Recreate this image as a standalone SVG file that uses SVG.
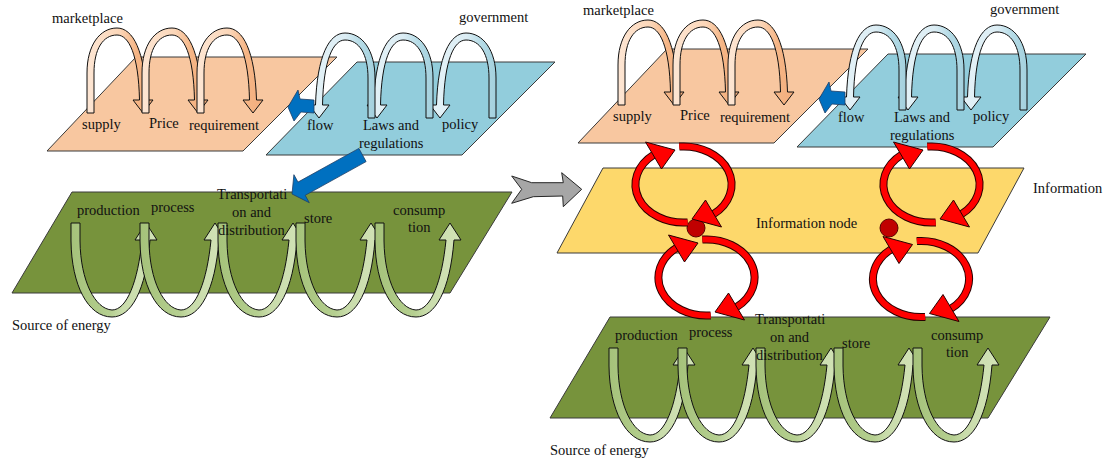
<svg xmlns="http://www.w3.org/2000/svg" xmlns:xlink="http://www.w3.org/1999/xlink" width="1106" height="465" viewBox="0 0 1106 465">
<style>
text{font-family:"Liberation Serif","Times New Roman",serif;font-size:14.5px;fill:#111}
.pl{stroke:#3a3a3a;stroke-width:1}
.or{fill:#f8c7a0}.bl{fill:#92cddc}.gr{fill:#77933c}.ye{fill:#fdd86b}
.ao{fill:url(#gOr);stroke:#111;stroke-width:1}
.ab{fill:url(#gBl);stroke:#111;stroke-width:1}
.ag{fill:url(#gGr);stroke:#111;stroke-width:1}
.rk{fill:none;stroke:#2a0000;stroke-width:8}
.rr{fill:none;stroke:#ff0000;stroke-width:6}
.rh{fill:#ff0000;stroke:#2a0000;stroke-width:1;stroke-linejoin:miter}
.dot{fill:#c00000;stroke:#5a0000;stroke-width:1}
.blue{fill:#0070c0;stroke:#1f3f66;stroke-width:0.8}
.gray{fill:#a6a6a6;stroke:#262626;stroke-width:1}
</style>
<defs>
<linearGradient id="gOr" x1="0" y1="0" x2="1" y2="0">
<stop offset="0" stop-color="#fde6d4"/><stop offset="0.5" stop-color="#fbd6b8"/><stop offset="0.75" stop-color="#f5b585"/><stop offset="1" stop-color="#f3ad7d"/>
</linearGradient>
<linearGradient id="gBl" x1="0" y1="0" x2="1" y2="0">
<stop offset="0" stop-color="#a3d0dd"/><stop offset="0.22" stop-color="#b5dbe6"/><stop offset="0.45" stop-color="#dcedf4"/><stop offset="1" stop-color="#e4f2f7"/>
</linearGradient>
<linearGradient id="gGr" x1="0" y1="0" x2="1" y2="0">
<stop offset="0" stop-color="#a5c27a"/><stop offset="0.45" stop-color="#b5cf90"/><stop offset="0.6" stop-color="#c9dcab"/><stop offset="1" stop-color="#d2e3b7"/>
</linearGradient>
<path id="archUp" d="M0,0 L0,-40 C0,-68 13,-85 30,-85 C46,-85 58,-62 59.5,-13 L66,-13 L56,0 L46,-13 L52.5,-13 C51.5,-58 42,-78 30,-78 C16,-78 7,-64 7,-40 L7,0 Z"/>
<path id="archDown" d="M0,0 L9,0 L9,18 C9.5,58 24,86 41,87 C56,87 67,58 71,17 L64,17 L75,0 L86,17 L79,17 C75,68 60,94 41,94 C17,94 0.5,62 0,18 Z"/>
<g id="loop">
<path class="rk" d="M4.2,37.9 A48,38 0 0 1 -29.6,-29.9"/>
<path class="rr" d="M4.2,37.9 A48,38 0 0 1 -29.6,-29.9"/>
<path class="rk" d="M-4.2,-37.9 A48,38 0 0 1 29.6,29.9"/>
<path class="rr" d="M-4.2,-37.9 A48,38 0 0 1 29.6,29.9"/>
<polygon class="rh" points="-22,-15.5 -38,-42.5 -8.5,-34.5"/>
<polygon class="rh" points="22,15.5 38,42.5 8.5,34.5"/>
</g>
</defs>
<rect width="1106" height="465" fill="#ffffff"/>

<!-- LEFT PANEL -->
<g id="marketplace-left">
<polygon class="pl or" points="136,57 337,57 243,151 47,151"/>
<use xlink:href="#archUp" class="ao" transform="translate(87,113)"/>
<use xlink:href="#archUp" class="ao" transform="translate(142,113)"/>
<use xlink:href="#archUp" class="ao" transform="translate(197,113)"/>
<text x="52" y="23">marketplace</text>
<text x="82" y="129">supply</text>
<text x="149" y="128">Price</text>
<text x="189" y="130">requirement</text>
</g>
<g id="government-left">
<polygon class="pl bl" points="357,62 555,62 462,155 266,155"/>
<use xlink:href="#archUp" class="ab" transform="translate(496,118) scale(-1,1)"/>
<use xlink:href="#archUp" class="ab" transform="translate(433,118) scale(-1,1)"/>
<use xlink:href="#archUp" class="ab" transform="translate(375,118) scale(-1,1)"/>
<text x="459" y="22">government</text>
<text x="307" y="130">flow</text>
<text x="363" y="130">Laws and</text>
<text x="359" y="148">regulations</text>
<text x="442" y="129">policy</text>
</g>
<g id="energy-left">
<polygon class="pl gr" points="72,192 512,192 450,293 12,293"/>
<use xlink:href="#archDown" class="ag" transform="translate(71,223)"/>
<use xlink:href="#archDown" class="ag" transform="translate(140,223)"/>
<use xlink:href="#archDown" class="ag" transform="translate(218,223)"/>
<use xlink:href="#archDown" class="ag" transform="translate(296,223)"/>
<use xlink:href="#archDown" class="ag" transform="translate(375,223)"/>
<text x="77" y="215">production</text>
<text x="151" y="212">process</text>
<text x="217" y="199">Transportati</text>
<text x="232" y="217">on and</text>
<text x="218" y="235">distribution</text>
<text x="304" y="223">store</text>
<text x="393" y="215">consump</text>
<text x="408" y="232">tion</text>
<text x="12" y="330">Source of energy</text>
</g>

<!-- RIGHT PANEL -->
<g id="marketplace-right" transform="translate(531,-8)">
<polygon class="pl or" points="136,57 337,57 243,151 47,151"/>
<use xlink:href="#archUp" class="ao" transform="translate(87,113)"/>
<use xlink:href="#archUp" class="ao" transform="translate(142,113)"/>
<use xlink:href="#archUp" class="ao" transform="translate(197,113)"/>
<text x="52" y="23">marketplace</text>
<text x="82" y="129">supply</text>
<text x="149" y="128">Price</text>
<text x="189" y="130">requirement</text>
</g>
<g id="government-right" transform="translate(531,-8)">
<polygon class="pl bl" points="357,62 555,62 462,155 266,155"/>
<use xlink:href="#archUp" class="ab" transform="translate(496,118) scale(-1,1)"/>
<use xlink:href="#archUp" class="ab" transform="translate(433,118) scale(-1,1)"/>
<use xlink:href="#archUp" class="ab" transform="translate(375,118) scale(-1,1)"/>
<text x="459" y="22">government</text>
<text x="307" y="130">flow</text>
<text x="363" y="130">Laws and</text>
<text x="359" y="148">regulations</text>
<text x="442" y="129">policy</text>
</g>
<g id="information">
<polygon class="pl ye" points="603,168 1024,168 978,253 557,253"/>
<text x="756" y="228">Information node</text>
<text x="1033" y="193">Information</text>
</g>
<g id="energy-right" transform="translate(538,125)">
<polygon class="pl gr" points="72,192 512,192 450,293 12,293"/>
<use xlink:href="#archDown" class="ag" transform="translate(71,223)"/>
<use xlink:href="#archDown" class="ag" transform="translate(140,223)"/>
<use xlink:href="#archDown" class="ag" transform="translate(218,223)"/>
<use xlink:href="#archDown" class="ag" transform="translate(296,223)"/>
<use xlink:href="#archDown" class="ag" transform="translate(375,223)"/>
<text x="77" y="215">production</text>
<text x="151" y="212">process</text>
<text x="217" y="199">Transportati</text>
<text x="232" y="217">on and</text>
<text x="218" y="235">distribution</text>
<text x="304" y="223">store</text>
<text x="393" y="215">consump</text>
<text x="408" y="232">tion</text>
<text x="12" y="330">Source of energy</text>
</g>
<g id="info-node-1">
<circle class="dot" cx="696" cy="228" r="9"/>
</g>
<g id="info-node-2">
<circle class="dot" cx="889" cy="228" r="9"/>
</g>

<!-- CONNECTORS -->
<g id="connectors">
<polygon class="blue" points="288,107 298,90 300,99 314,100 314,113 301,112 294,121"/>
<polygon class="blue" points="292,194 293.9,174.7 298,182.1 358.9,148.4 366.1,161.6 305.2,195.3 309.3,202.7"/>
<polygon class="blue" transform="translate(531,-8)" points="288,107 298,90 300,99 314,100 314,113 301,112 294,121"/>
<polygon class="gray" points="511.7,176 531.7,182.7 563.3,182.7 561.7,172.7 581.7,189.3 563.3,206.7 562.7,196 533.3,196.7 511.7,203.3 521.7,189.3"/>
<use xlink:href="#loop" transform="translate(683.5,184.5)"/>
<use xlink:href="#loop" transform="translate(706.5,277.5)"/>
<use xlink:href="#loop" transform="translate(931.5,184.5)"/>
<use xlink:href="#loop" transform="translate(921,279)"/>
</g>
</svg>
